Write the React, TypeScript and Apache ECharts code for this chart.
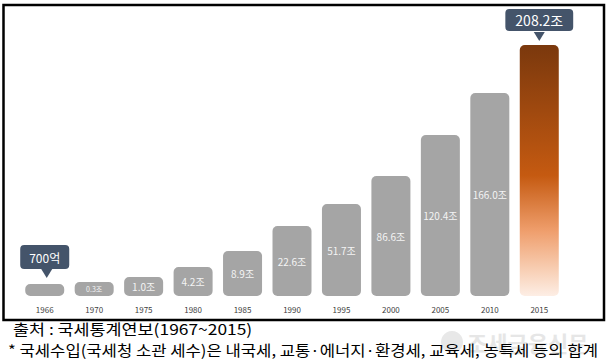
import React, { useEffect, useRef } from "react";
import * as echarts from "echarts";

const years = ["1966", "1970", "1975", "1980", "1985", "1990", "1995", "2000", "2005", "2010", "2015"];
const revenueLabels = ["700억", "0.3조", "1.0조", "4.2조", "8.9조", "22.6조", "51.7조", "86.6조", "120.4조", "166.0조", "208.2조"];
// stylised (non-proportional) bar heights as drawn in the infographic
const barHeights = [12, 14, 19, 29, 45, 70, 92, 120, 161, 203, 251];
const calloutIndices = [0, 10];
const sourceText = "출처 : 국세통계연보(1967~2015)";
const noteText = "* 국세수입(국세청 소관 세수)은 내국세, 교통·에너지·환경세, 교육세, 농특세 등의 합계";
const watermarkText = "조세금융신문";

const FONT = '"Noto Sans CJK KR", "Noto Sans", sans-serif';

export default function App() {
  const ref = useRef<HTMLDivElement>(null);
  useEffect(() => {
    if (!ref.current) return;
    const chart = echarts.init(ref.current, null, { renderer: "svg" });
    const last = years.length - 1;
    const data = barHeights.map((h, i) => {
      const item: any = { value: h };
      if (i === last) {
        item.itemStyle = {
          color: new echarts.graphic.LinearGradient(0, 0, 0, 1, [
            { offset: 0, color: "#7a380d" },
            { offset: 0.52, color: "#c55a11" },
            { offset: 0.74, color: "#ef9e6c" },
            { offset: 0.9, color: "#f8d0b6" },
            { offset: 1, color: "#fdeee5" },
          ]),
        };
      }
      if (calloutIndices.includes(i)) {
        const big = i === last;
        item.label = {
          show: true,
          position: "top",
          distance: big ? 14 : 15,
          formatter: revenueLabels[i],
          color: "#ffffff",
          fontFamily: FONT,
          fontSize: big ? 14 : 12,
          lineHeight: 16,
          backgroundColor: "#44546a",
          borderRadius: 4,
          padding: big ? [3, 10] : [4, 9],
        };
      } else if (i === 1) {
        item.label = { fontSize: 7 };
      }
      return item;
    });
    chart.setOption({
      animation: false,
      grid: { left: 20, right: 46, top: 36, bottom: 67 },
      xAxis: {
        type: "category",
        data: years,
        axisLine: { show: false },
        axisTick: { show: false },
        axisLabel: { color: "#404040", fontSize: 8, fontFamily: FONT, margin: 9 },
      },
      yAxis: { type: "value", min: 0, max: 260, show: false, splitLine: { show: false } },
      series: [
        {
          type: "bar",
          data,
          barWidth: 39,
          itemStyle: { color: "#a5a5a5", borderRadius: 5 },
          label: {
            show: true,
            position: "inside",
            color: "#f4f4f4",
            fontFamily: FONT,
            fontSize: 10,
            formatter: (p: any) => revenueLabels[p.dataIndex],
          },
          markPoint: {
            symbol: "triangle",
            symbolRotate: 180,
            symbolSize: [11, 9],
            label: { show: false },
            itemStyle: { color: "#44546a" },
            data: [
              { coord: [years[0], barHeights[0]], symbolOffset: [2, -10.5] },
              { coord: [years[last], barHeights[last]], symbolOffset: [0, -8.5] },
            ],
          },
        },
      ],
      graphic: [
        {
          type: "circle",
          shape: { cx: 452, cy: 342, r: 11 },
          style: { fill: "#e8e8e8" },
          z: 0,
        },
        {
          type: "text",
          x: 467,
          y: 342,
          z: 0,
          style: { text: watermarkText, fill: "#e6e6e6", font: `bold 22px ${FONT}`, verticalAlign: "middle" },
        },
        {
          type: "rect",
          shape: { x: 3.5, y: 5, width: 600.5, height: 315 },
          style: { fill: "none", stroke: "#000", lineWidth: 2.5 },
          z: 10,
        },
        {
          type: "text",
          x: 13,
          y: 329,
          z: 10,
          scaleX: 1.16,
          style: { text: sourceText, fill: "#000", font: `15px ${FONT}`, verticalAlign: "middle" },
        },
        {
          type: "text",
          x: 8,
          y: 350,
          z: 10,
          scaleX: 1.11,
          style: { text: noteText, fill: "#000", font: `15px ${FONT}`, verticalAlign: "middle" },
        },
      ],
    });
    return () => chart.dispose();
  }, []);
  return (
    <div
      ref={ref}
      style={{ position: "absolute", left: 0, top: 0, width: 610, height: 363, background: "#fff" }}
    />
  );
}
